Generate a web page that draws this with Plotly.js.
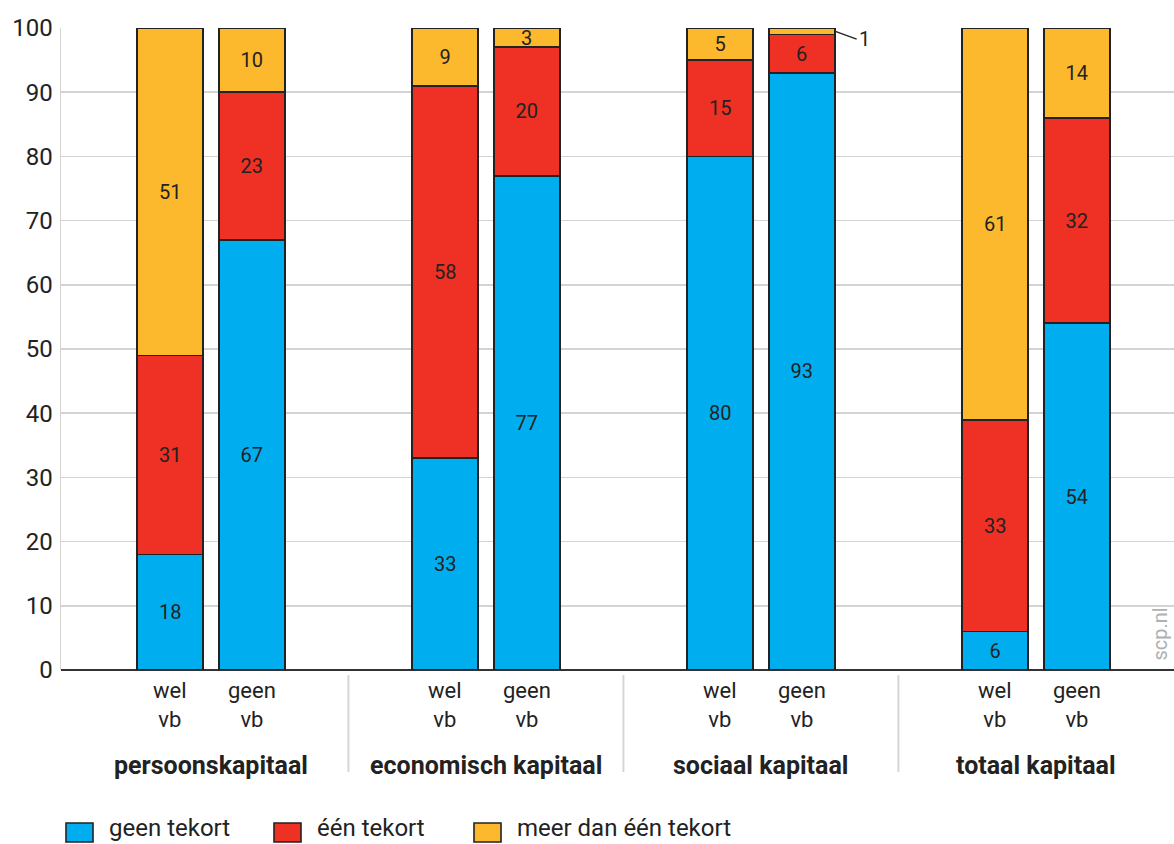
<!DOCTYPE html>
<html>
<head>
<meta charset="utf-8">
<script src="https://cdn.plot.ly/plotly-3.0.1.min.js"></script>
<style>html,body{margin:0;padding:0;background:#fff;}#chart{width:1174px;height:844px;}</style>
</head>
<body>
<div id="chart"></div>
<script>
const groups = ["persoonskapitaal", "economisch kapitaal", "sociaal kapitaal", "totaal kapitaal"];
const barLabels = ["wel<br>vb", "geen<br>vb"];
const seriesNames = ["geen tekort", "één tekort", "meer dan één tekort"];
const geenTekort = [18, 67, 33, 77, 80, 93, 6, 54];
const eenTekort = [31, 23, 58, 20, 15, 6, 33, 32];
const meerTekort = [51, 10, 9, 3, 5, 1, 61, 14];
const colors = ["#00AEEF", "#EE3124", "#FDB92E"];
const yTicks = [0, 10, 20, 30, 40, 50, 60, 70, 80, 90, 100];

const FONT = "Roboto, Arial, sans-serif";
const groupStep = 3.375, barWidth = 0.81;
const plotL = 61, plotH = 642, plotW = 1113, plotBottom = 670;
const xPos = [];
groups.forEach((g, gi) => barLabels.forEach((b, bi) => { xPos.push(gi * groupStep + bi); }));

const series = [geenTekort, eenTekort, meerTekort];
const traces = [];
series.forEach((vals, si) => {
  traces.push({
    type: "bar", x: xPos, y: vals, width: barWidth, name: seriesNames[si], showlegend: false,
    marker: {color: colors[si], line: {color: "#222", width: 1.8}},
    text: vals.map(v => v < 2 ? "" : String(v)),
    textposition: "inside", insidetextanchor: "middle", textangle: 0, constraintext: "none",
    textfont: {family: FONT, size: 20, color: "#222"}, hoverinfo: "skip"
  });
});

const annotations = [];
const shapes = [];
xPos.forEach((x, i) => {
  annotations.push({x: x, y: -34.5 / plotH, xref: "x", yref: "paper", yanchor: "middle", showarrow: false,
    text: barLabels[i % 2], font: {family: FONT, size: 22, color: "#222"}});
});
groups.forEach((g, gi) => {
  annotations.push({
    x: gi * groupStep + 0.5, y: -95 / plotH, xref: "x", yref: "paper", yanchor: "middle",
    text: "<b>" + g + "</b>", showarrow: false, font: {family: FONT, size: 25, color: "#222"}
  });
});
meerTekort.forEach((v, i) => {
  if (v < 2) {
    annotations.push({
      x: xPos[i] + barWidth / 2, y: 100 - v / 2, xref: "x", yref: "y",
      text: String(v), showarrow: true, arrowhead: 0, arrowwidth: 1.4, arrowcolor: "#222",
      ax: 22, ay: 8, xanchor: "left", font: {family: FONT, size: 20, color: "#222"}
    });
  }
});
annotations.push({
  x: 1, y: 7 / plotH, xref: "paper", yref: "paper", xanchor: "right", yanchor: "bottom", xshift: -1,
  text: "scp.nl", textangle: -90, showarrow: false, font: {family: FONT, size: 20, color: "#b0b0b0"}
});

// group separators
for (let gi = 0; gi < groups.length - 1; gi++) {
  const xs = (gi * groupStep + 1 + (gi + 1) * groupStep) / 2;
  shapes.push({type: "line", xref: "x", yref: "paper", x0: xs, x1: xs, y0: -5 / plotH, y1: -102 / plotH,
    line: {color: "#d6d6d6", width: 2}});
}

// legend (drawn as keys + labels)
const legendLeft = [66, 274, 474];
const px2x = p => (p - plotL) / plotW;
const py2y = p => (plotBottom - p) / plotH;
seriesNames.forEach((name, si) => {
  shapes.push({type: "rect", xref: "paper", yref: "paper",
    x0: px2x(legendLeft[si]), x1: px2x(legendLeft[si] + 27), y0: py2y(823), y1: py2y(842),
    fillcolor: colors[si], line: {color: "#222", width: 1.6}});
  annotations.push({x: px2x(legendLeft[si] + 42), y: py2y(828), xref: "paper", yref: "paper",
    xanchor: "left", yanchor: "middle", showarrow: false, text: name, borderpad: 0,
    font: {family: FONT, size: 24, color: "#222"}});
});

const layout = {
  width: 1174, height: 844,
  margin: {l: plotL, r: 0, t: 28, b: 174, autoexpand: false},
  paper_bgcolor: "#fff", plot_bgcolor: "#fff",
  barmode: "stack", showlegend: false,
  font: {family: FONT, color: "#222"},
  xaxis: {
    range: [-1.34, 12.32], showticklabels: false,
    showgrid: false, zeroline: false, showline: false, ticks: "", fixedrange: true
  },
  yaxis: {
    range: [0, 100], tickmode: "array", tickvals: yTicks, ticktext: yTicks.map(String),
    showgrid: true, gridcolor: "#d4d4d4", gridwidth: 1.5,
    zeroline: true, zerolinecolor: "#333", zerolinewidth: 2,
    showline: true, linecolor: "#d4d4d4", linewidth: 1.5,
    ticks: "", ticklabelstandoff: 2,
    tickfont: {family: FONT, size: 24, color: "#222"}, fixedrange: true
  },
  annotations: annotations, shapes: shapes, bargap: 0
};
Plotly.newPlot("chart", traces, layout, {displayModeBar: false, staticPlot: true});
</script>
</body>
</html>
